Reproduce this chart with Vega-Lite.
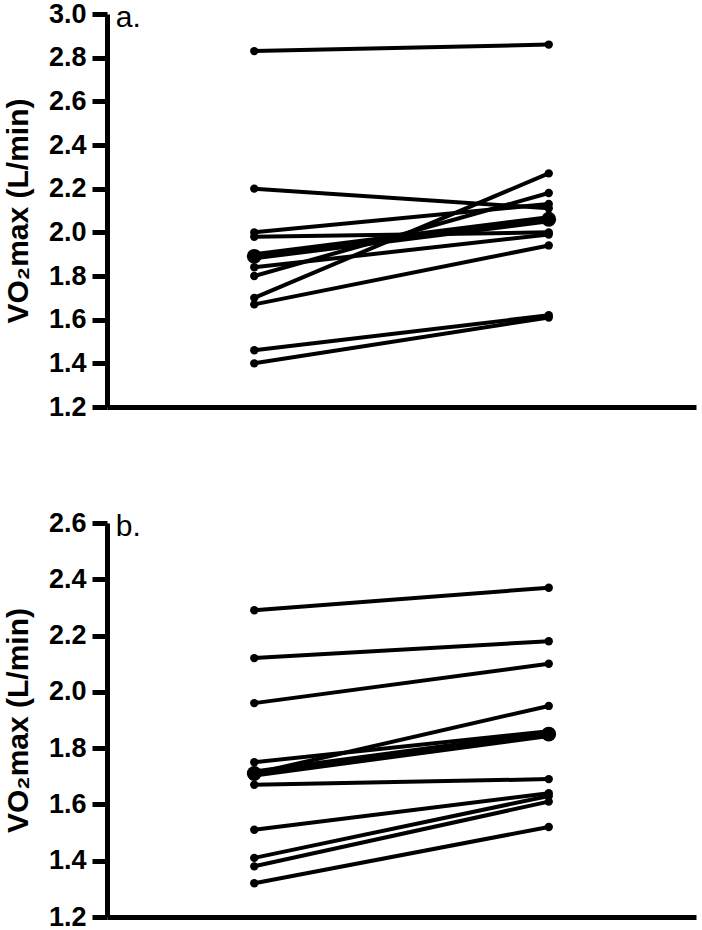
{
  "$schema": "https://vega.github.io/schema/vega-lite/v6.json",
  "padding": {"left": 3, "top": 0, "right": 5, "bottom": 0},
  "background": "white",
  "config": {
    "view": {"stroke": null},
    "font": "Liberation Sans",
    "axis": {
      "grid": false,
      "domainColor": "black",
      "domainWidth": 5,
      "tickColor": "black",
      "tickWidth": 5,
      "tickSize": 15,
      "labelFont": "Liberation Sans",
      "labelFontWeight": "bold",
      "labelFontSize": 27,
      "labelColor": "black",
      "labelPadding": 6,
      "labelOverlap": false,
      "labelFlush": false,
      "titleFont": "Liberation Sans",
      "titleFontWeight": "bold",
      "titleFontSize": 30,
      "titleColor": "black",
      "titlePadding": 15
    }
  },
  "data": {
    "values": [
      {"panel": "a", "group": "subject", "subject": "a1", "time": 1, "value": 2.83},
      {"panel": "a", "group": "subject", "subject": "a1", "time": 3, "value": 2.86},
      {"panel": "a", "group": "subject", "subject": "a2", "time": 1, "value": 2.20},
      {"panel": "a", "group": "subject", "subject": "a2", "time": 3, "value": 2.11},
      {"panel": "a", "group": "subject", "subject": "a3", "time": 1, "value": 2.00},
      {"panel": "a", "group": "subject", "subject": "a3", "time": 3, "value": 2.13},
      {"panel": "a", "group": "subject", "subject": "a4", "time": 1, "value": 1.98},
      {"panel": "a", "group": "subject", "subject": "a4", "time": 3, "value": 2.00},
      {"panel": "a", "group": "subject", "subject": "a5", "time": 1, "value": 1.84},
      {"panel": "a", "group": "subject", "subject": "a5", "time": 3, "value": 1.99},
      {"panel": "a", "group": "subject", "subject": "a6", "time": 1, "value": 1.80},
      {"panel": "a", "group": "subject", "subject": "a6", "time": 3, "value": 2.18},
      {"panel": "a", "group": "subject", "subject": "a7", "time": 1, "value": 1.70},
      {"panel": "a", "group": "subject", "subject": "a7", "time": 3, "value": 2.27},
      {"panel": "a", "group": "subject", "subject": "a8", "time": 1, "value": 1.67},
      {"panel": "a", "group": "subject", "subject": "a8", "time": 3, "value": 1.94},
      {"panel": "a", "group": "subject", "subject": "a9", "time": 1, "value": 1.46},
      {"panel": "a", "group": "subject", "subject": "a9", "time": 3, "value": 1.62},
      {"panel": "a", "group": "subject", "subject": "a10", "time": 1, "value": 1.40},
      {"panel": "a", "group": "subject", "subject": "a10", "time": 3, "value": 1.61},
      {"panel": "a", "group": "mean", "subject": "amean", "time": 1, "value": 1.89},
      {"panel": "a", "group": "mean", "subject": "amean", "time": 3, "value": 2.06},
      {"panel": "b", "group": "subject", "subject": "b1", "time": 1, "value": 2.29},
      {"panel": "b", "group": "subject", "subject": "b1", "time": 3, "value": 2.37},
      {"panel": "b", "group": "subject", "subject": "b2", "time": 1, "value": 2.12},
      {"panel": "b", "group": "subject", "subject": "b2", "time": 3, "value": 2.18},
      {"panel": "b", "group": "subject", "subject": "b3", "time": 1, "value": 1.96},
      {"panel": "b", "group": "subject", "subject": "b3", "time": 3, "value": 2.10},
      {"panel": "b", "group": "subject", "subject": "b4", "time": 1, "value": 1.75},
      {"panel": "b", "group": "subject", "subject": "b4", "time": 3, "value": 1.86},
      {"panel": "b", "group": "subject", "subject": "b5", "time": 1, "value": 1.71},
      {"panel": "b", "group": "subject", "subject": "b5", "time": 3, "value": 1.95},
      {"panel": "b", "group": "subject", "subject": "b6", "time": 1, "value": 1.67},
      {"panel": "b", "group": "subject", "subject": "b6", "time": 3, "value": 1.69},
      {"panel": "b", "group": "subject", "subject": "b7", "time": 1, "value": 1.51},
      {"panel": "b", "group": "subject", "subject": "b7", "time": 3, "value": 1.64},
      {"panel": "b", "group": "subject", "subject": "b8", "time": 1, "value": 1.41},
      {"panel": "b", "group": "subject", "subject": "b8", "time": 3, "value": 1.63},
      {"panel": "b", "group": "subject", "subject": "b9", "time": 1, "value": 1.38},
      {"panel": "b", "group": "subject", "subject": "b9", "time": 3, "value": 1.61},
      {"panel": "b", "group": "subject", "subject": "b10", "time": 1, "value": 1.32},
      {"panel": "b", "group": "subject", "subject": "b10", "time": 3, "value": 1.52},
      {"panel": "b", "group": "mean", "subject": "bmean", "time": 1, "value": 1.71},
      {"panel": "b", "group": "mean", "subject": "bmean", "time": 3, "value": 1.85}
    ]
  },
  "spacing": 89,
  "vconcat": [
    {
      "width": 589,
      "height": 393,
      "encoding": {
        "x": {"field": "time", "type": "quantitative", "scale": {"domain": [0, 4]},
              "axis": {"labels": false, "ticks": false, "title": null}},
        "y": {"field": "value", "type": "quantitative", "scale": {"domain": [1.2, 3.0], "nice": false, "zero": false},
              "axis": {"values": [1.2, 1.4, 1.6, 1.8, 2.0, 2.2, 2.4, 2.6, 2.8, 3.0], "format": ".1f", "title": "VO₂max (L/min)"}}
      },
      "layer": [
        {"transform": [{"filter": "datum.panel == 'a' && datum.group == 'subject'"}],
         "mark": {"type": "line", "strokeWidth": 4, "color": "black"},
         "encoding": {"detail": {"field": "subject"}, "order": {"field": "time"}}},
        {"transform": [{"filter": "datum.panel == 'a' && datum.group == 'subject'"}],
         "mark": {"type": "point", "filled": true, "size": 70, "color": "black", "opacity": 1}},
        {"transform": [{"filter": "datum.panel == 'a' && datum.group == 'mean'"}],
         "mark": {"type": "line", "strokeWidth": 8, "color": "black"},
         "encoding": {"detail": {"field": "subject"}, "order": {"field": "time"}}},
        {"transform": [{"filter": "datum.panel == 'a' && datum.group == 'mean'"}],
         "mark": {"type": "point", "filled": true, "size": 220, "color": "black", "opacity": 1}},
        {"transform": [{"filter": "datum.panel == 'a' && datum.group == 'mean' && datum.time == 1"}],
         "mark": {"type": "text", "align": "left", "baseline": "middle", "fontSize": 30, "dy": 4, "color": "black", "font": "Liberation Sans", "text": "a."},
         "encoding": {"x": {"datum": 0.06, "type": "quantitative"}, "y": {"datum": 3.0, "type": "quantitative"}}}
      ]
    },
    {
      "width": 589,
      "height": 394,
      "encoding": {
        "x": {"field": "time", "type": "quantitative", "scale": {"domain": [0, 4]},
              "axis": {"labels": false, "ticks": false, "title": null}},
        "y": {"field": "value", "type": "quantitative", "scale": {"domain": [1.2, 2.6], "nice": false, "zero": false},
              "axis": {"values": [1.2, 1.4, 1.6, 1.8, 2.0, 2.2, 2.4, 2.6], "format": ".1f", "title": "VO₂max (L/min)"}}
      },
      "layer": [
        {"transform": [{"filter": "datum.panel == 'b' && datum.group == 'subject'"}],
         "mark": {"type": "line", "strokeWidth": 4, "color": "black"},
         "encoding": {"detail": {"field": "subject"}, "order": {"field": "time"}}},
        {"transform": [{"filter": "datum.panel == 'b' && datum.group == 'subject'"}],
         "mark": {"type": "point", "filled": true, "size": 70, "color": "black", "opacity": 1}},
        {"transform": [{"filter": "datum.panel == 'b' && datum.group == 'mean'"}],
         "mark": {"type": "line", "strokeWidth": 8, "color": "black"},
         "encoding": {"detail": {"field": "subject"}, "order": {"field": "time"}}},
        {"transform": [{"filter": "datum.panel == 'b' && datum.group == 'mean'"}],
         "mark": {"type": "point", "filled": true, "size": 220, "color": "black", "opacity": 1}},
        {"transform": [{"filter": "datum.panel == 'b' && datum.group == 'mean' && datum.time == 1"}],
         "mark": {"type": "text", "align": "left", "baseline": "middle", "fontSize": 30, "dy": 4, "color": "black", "font": "Liberation Sans", "text": "b."},
         "encoding": {"x": {"datum": 0.06, "type": "quantitative"}, "y": {"datum": 2.6, "type": "quantitative"}}}
      ]
    }
  ]
}
